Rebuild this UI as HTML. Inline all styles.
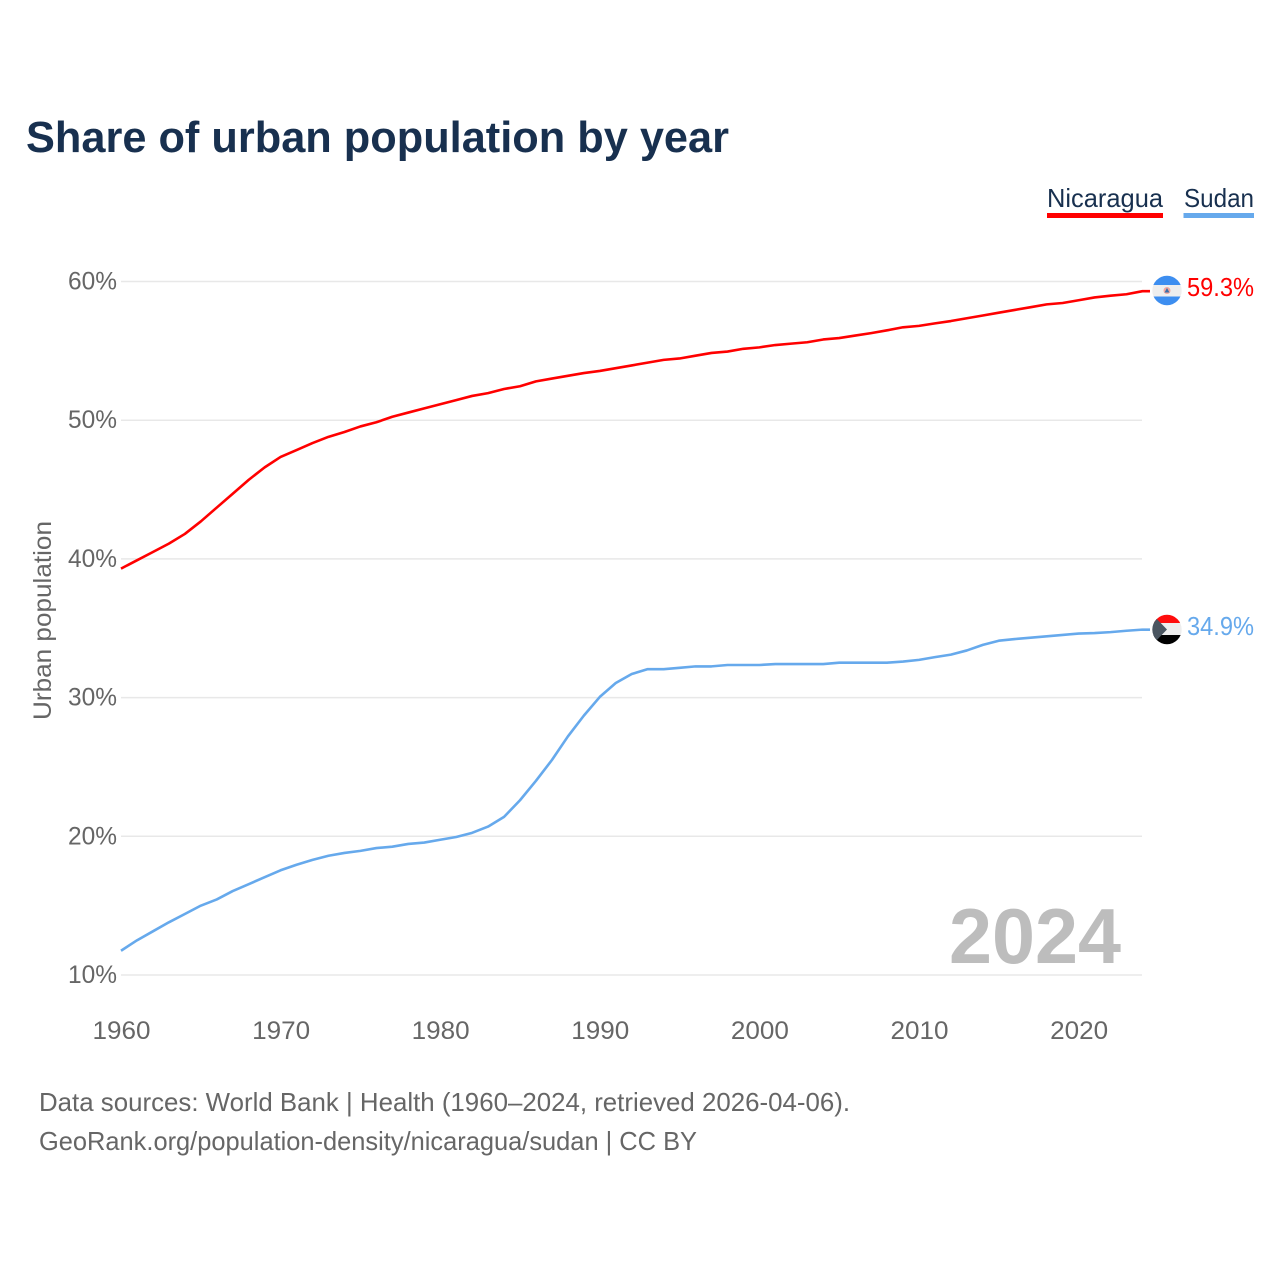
<!DOCTYPE html>
<html lang="en">
<head>
<meta charset="utf-8">
<title>Share of urban population by year</title>
<style>
html,body{margin:0;padding:0;background:#fff}
svg{display:block;font-family:"Liberation Sans",sans-serif}
</style>
</head>
<body>
<svg id="chart" width="1280" height="1280" viewBox="0 0 1280 1280" xmlns="http://www.w3.org/2000/svg">
  <defs>
    <clipPath id="flag-clip-nic"><circle cx="1167" cy="290.5" r="14.7"/></clipPath>
    <clipPath id="flag-clip-sud"><circle cx="1167" cy="629.5" r="14.7"/></clipPath>
  </defs>
  <rect width="1280" height="1280" fill="#fff"/>
  <text x="26" y="152" font-size="44" font-weight="700" fill="#18304f" textLength="703" lengthAdjust="spacingAndGlyphs">Share of urban population by year</text>

  <g>
    <text x="1047" y="207" font-size="26" fill="#18304f" textLength="116" lengthAdjust="spacingAndGlyphs">Nicaragua</text>
    <rect x="1047" y="213" width="116" height="5" fill="#ff0000"/>
  </g>
  <g>
    <text x="1184" y="207" font-size="26" fill="#18304f" textLength="70" lengthAdjust="spacingAndGlyphs">Sudan</text>
    <rect x="1183.500" y="213" width="70.500" height="5" fill="#66a9ec"/>
  </g>

  <g id="grid"></g>
  <g id="yticks"></g>
  <g id="xticks"></g>
  <text transform="translate(51,720) rotate(-90)" font-size="25" fill="#666" textLength="199" lengthAdjust="spacingAndGlyphs">Urban population</text>

  <text x="949" y="963" font-size="78" font-weight="700" fill="#bdbdbd" textLength="172" lengthAdjust="spacingAndGlyphs">2024</text>

  <g id="series"></g>

  <g clip-path="url(#flag-clip-nic)">
    <rect x="1152" y="275" width="30" height="31" fill="#eeeeee"/>
    <rect x="1152" y="275" width="30" height="10" fill="#3d8ef0"/>
    <rect x="1152" y="296.500" width="30" height="10" fill="#3d8ef0"/>
    <circle cx="1167" cy="290.500" r="3.500" fill="#f2a8a0"/>
    <path d="M1164.500 292.500 L1167 288 L1169.500 292.500 Z" fill="#3a6ea8"/>
  </g>
  <g clip-path="url(#flag-clip-sud)">
    <rect x="1152" y="614" width="30" height="9" fill="#ff0d0d"/>
    <rect x="1152" y="623" width="30" height="12" fill="#eeeeee"/>
    <rect x="1152" y="635" width="30" height="10" fill="#000"/>
    <path d="M1152 614 L1167 629.500 L1152 645 Z" fill="#4a5560"/>
  </g>

  <text id="end-label-nic" x="1187" y="296" font-size="26" fill="#ff0000" textLength="67" lengthAdjust="spacingAndGlyphs"></text>
  <text id="end-label-sud" x="1187" y="635" font-size="26" fill="#66a9ec" textLength="67" lengthAdjust="spacingAndGlyphs"></text>

  <text x="39" y="1111" font-size="26" fill="#666" textLength="811" lengthAdjust="spacingAndGlyphs">Data sources: World Bank | Health (1960–2024, retrieved 2026-04-06).</text>
  <text x="39" y="1150" font-size="26" fill="#666" textLength="658" lengthAdjust="spacingAndGlyphs">GeoRank.org/population-density/nicaragua/sudan | CC BY</text>
</svg>
<script>
const startYear = 1960;
const nicaragua = [39.3,39.9,40.5,41.1,41.8,42.7,43.7,44.7,45.7,46.6,47.35,47.85,48.35,48.8,49.15,49.55,49.85,50.25,50.55,50.85,51.15,51.45,51.75,51.95,52.25,52.45,52.8,53,53.2,53.4,53.55,53.75,53.95,54.15,54.35,54.45,54.65,54.85,54.95,55.15,55.25,55.42,55.52,55.62,55.82,55.92,56.1,56.28,56.48,56.7,56.8,56.98,57.15,57.35,57.55,57.75,57.95,58.15,58.35,58.45,58.65,58.85,58.98,59.08,59.3];
const sudan = [11.75,12.5,13.15,13.8,14.4,15,15.45,16.05,16.55,17.05,17.55,17.95,18.3,18.6,18.8,18.95,19.15,19.25,19.45,19.55,19.75,19.95,20.25,20.7,21.4,22.6,24,25.5,27.2,28.7,30.05,31.05,31.7,32.05,32.05,32.15,32.25,32.25,32.35,32.35,32.35,32.42,32.42,32.42,32.42,32.52,32.52,32.52,32.52,32.6,32.72,32.92,33.1,33.4,33.8,34.1,34.22,34.32,34.42,34.52,34.62,34.65,34.72,34.82,34.9];
const yTicks = [10,20,30,40,50,60];
const xTicks = [1960,1970,1980,1990,2000,2010,2020];
const endLabelNicaragua = "59.3%";
const endLabelSudan = "34.9%";

const NS = "http://www.w3.org/2000/svg";
function xScale(year){ return 121 + (year - 1960) * 15.96; }
function yScale(pct){ return 975 - (pct - 10) * 13.87; }
function make(tag, attrs, parent){
  const el = document.createElementNS(NS, tag);
  for (const k in attrs) el.setAttribute(k, attrs[k]);
  parent.appendChild(el);
  return el;
}
const grid = document.getElementById("grid");
const yGroup = document.getElementById("yticks");
const xGroup = document.getElementById("xticks");
const seriesGroup = document.getElementById("series");

yTicks.forEach(function(v){
  const line = make("line", {x1:121, x2:1142, y1:yScale(v), y2:yScale(v), stroke:"#e8e8e8", "stroke-width":1.5}, grid);
  
  
  const t = make("text", {x:117, y:yScale(v)+8, "text-anchor":"end", "font-size":25, fill:"#666", textLength:49, lengthAdjust:"spacingAndGlyphs"}, yGroup);
  
  
  t.textContent = v + "%";
});
xTicks.forEach(function(v){
  const t = make("text", {x:xScale(v)+0.5, y:1039, "text-anchor":"middle", "font-size":25, fill:"#666", textLength:58, lengthAdjust:"spacingAndGlyphs"}, xGroup);
  
  
  t.textContent = v;
});
function drawSeries(values, color, name){
  const pts = values.map(function(v,i){ return xScale(startYear+i).toFixed(2)+","+yScale(v).toFixed(2); });
  const lastY = yScale(values[values.length-1]).toFixed(2);
  pts.push("1150,"+lastY);
  const p = make("polyline", {points:pts.join(" "), fill:"none", stroke:color, "stroke-width":2.6, "stroke-linejoin":"round"}, seriesGroup);
  
  
}
drawSeries(nicaragua, "#ff0000", "line-nicaragua");
drawSeries(sudan, "#66a9ec", "line-sudan");
document.getElementById("end-label-nic").textContent = endLabelNicaragua;
document.getElementById("end-label-sud").textContent = endLabelSudan;
</script>
</body>
</html>
